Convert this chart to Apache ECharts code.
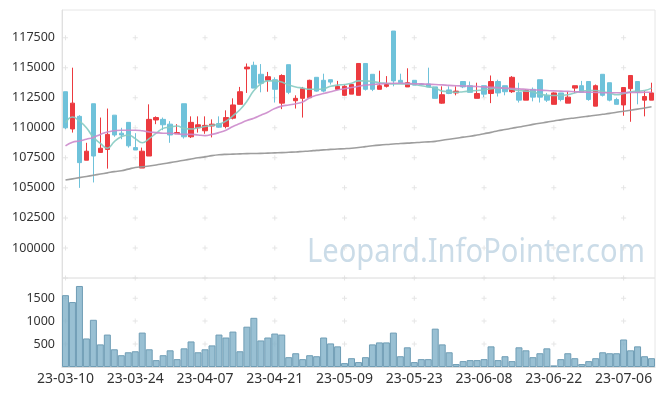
<!DOCTYPE html>
<html>
<head>
<meta charset="utf-8">
<script src="https://cdn.jsdelivr.net/npm/echarts@6/dist/echarts.min.js"></script>
<style>
html,body{margin:0;padding:0;background:#fff;}
#c{width:665px;height:396px;}
</style>
</head>
<body>
<div id="c"></div>
<script>
var dates = ['23-03-10','23-03-13','23-03-14','23-03-15','23-03-16','23-03-17','23-03-20','23-03-21','23-03-22','23-03-23',
'23-03-24','23-03-27','23-03-28','23-03-29','23-03-30','23-03-31','23-04-03','23-04-04','23-04-05','23-04-06',
'23-04-07','23-04-10','23-04-11','23-04-12','23-04-13','23-04-14','23-04-17','23-04-18','23-04-19','23-04-20',
'23-04-21','23-04-24','23-04-25','23-04-26','23-04-27','23-04-28','23-05-02','23-05-03','23-05-04','23-05-08',
'23-05-09','23-05-10','23-05-11','23-05-12','23-05-15','23-05-16','23-05-17','23-05-18','23-05-19','23-05-22',
'23-05-23','23-05-24','23-05-25','23-05-26','23-05-30','23-05-31','23-06-01','23-06-02','23-06-05','23-06-07',
'23-06-08','23-06-09','23-06-12','23-06-13','23-06-14','23-06-15','23-06-16','23-06-19','23-06-20','23-06-21',
'23-06-22','23-06-23','23-06-26','23-06-27','23-06-28','23-06-29','23-06-30','23-07-03','23-07-04','23-07-05',
'23-07-06','23-07-07','23-07-10','23-07-11','23-07-12'];

var openP = [113000,109900,110950,107300,112000,107950,108200,111050,109550,110450,
108350,106650,107650,110650,110700,110300,109500,112000,109250,110000,
109750,110150,110350,110100,110800,111950,114900,115200,114450,113950,
114000,112050,115250,112250,112450,112500,114200,113950,114000,113200,
112700,112800,112700,115350,114450,113200,113450,118050,113950,113400,
113950,113650,113650,113400,112050,113150,112900,113850,113500,112450,
113500,112850,113850,113500,113000,112950,112300,113200,114000,112700,
111950,112900,112050,113300,113500,113850,111800,114450,113750,112350,
111900,113250,113850,112300,112300];
var closeP = [110000,112050,107100,108050,107650,108300,109450,109400,109400,108500,
108150,108050,110700,110850,110250,109400,109600,109250,110450,110250,
110200,110300,110050,110850,111900,113000,115050,113300,113700,114250,
113200,114350,112950,112450,113250,113950,113050,113050,113800,113450,
113450,113600,115350,113200,113200,113500,113600,113900,113750,113750,
113550,113600,113400,112450,112750,112850,113050,113400,112950,112850,
112800,113850,112900,113000,114200,112300,113100,112550,112550,112300,
112900,112350,112550,113500,112950,112350,113500,112700,112300,111950,
113350,114350,112950,112600,112900];
var lowP = [109900,109600,105000,107300,105450,107900,106600,109250,109050,108350,
108150,106650,107650,110300,109800,108750,109500,109100,109150,109600,
109500,109200,110000,109950,110700,111950,112900,113300,112950,113000,
112100,111550,112800,111600,110850,112500,113000,112950,113600,113200,
112650,112800,112700,113100,113050,113200,113350,113450,113700,113400,
113550,113550,113400,112450,112000,112800,112700,113300,112950,112450,
112550,112050,112600,112700,112900,112100,112300,112200,112100,112150,
111950,112200,112050,112900,112950,112250,111800,112600,112200,111950,
111000,110500,111950,110950,112300];
var highP = [113000,115000,111050,108750,112000,110850,111600,111050,110000,110450,
109550,108350,111950,110950,110850,110550,110300,112000,110950,110950,
110950,110700,110950,111450,112450,113400,115350,115500,115300,114650,
114200,114450,115250,112700,113400,114000,114200,114500,114000,113900,
113550,113600,115350,115350,114450,114750,114300,118050,114500,114950,
113950,113700,115000,113400,113450,113450,113450,113850,113850,113750,
113500,114350,114000,113500,114300,113750,113200,113350,114000,112900,
112950,112900,113000,113500,113900,113850,113600,114450,113750,112500,
113350,114350,113850,113050,113750];

var ma5 = [110400,110900,110550,110000,109200,108700,108300,108850,109250,109400,
109100,108750,109100,109550,109950,110050,110150,109950,109900,110000,
110100,110200,110300,110550,111000,111500,112200,113100,113650,113900,
113900,113800,113550,113400,113300,113200,113200,113250,113450,113550,
113600,113700,113900,113900,113850,113750,113700,113650,113650,113650,
113600,113500,113400,113300,113050,113000,112950,113000,113050,113100,
113150,113250,113300,113300,113200,113100,113050,113000,112800,112700,
112680,112700,112750,112900,113050,113100,113100,113000,112900,112750,
112850,113000,113050,113100,113300];
var ma20 = [108500,108800,108900,109050,109200,109450,109650,109750,109800,109800,
109800,109750,109650,109600,109550,109550,109500,109450,109450,109400,
109350,109450,109600,109800,110100,110350,110600,110800,111050,111300,
111600,111800,111900,112000,112150,112500,112700,112850,113000,113150,
113250,113350,113450,113550,113600,113650,113680,113700,113700,113680,
113660,113650,113620,113600,113570,113530,113500,113480,113460,113430,
113400,113370,113340,113300,113270,113240,113200,113160,113130,113100,
113070,113050,113030,113000,112980,112960,112940,112920,112910,112910,
112920,112930,112940,112950,112950];
var ma60 = [105650,105750,105850,105950,106050,106150,106250,106350,106420,106560,
106700,106760,106820,106900,107000,107100,107200,107300,107400,107500,
107580,107680,107750,107790,107810,107830,107850,107860,107870,107890,
107910,107930,107960,107990,108030,108070,108120,108160,108200,108230,
108260,108300,108360,108430,108500,108560,108610,108650,108690,108720,
108760,108800,108830,108870,108960,109050,109130,109220,109300,109400,
109510,109620,109750,109850,109960,110060,110170,110280,110380,110470,
110570,110660,110750,110820,110900,110970,111040,111120,111200,111290,
111380,111460,111550,111650,111750];

var volume = [1566,1416,1766,622,1029,493,707,386,257,321,
343,750,386,150,257,364,171,407,557,321,
386,471,707,643,772,343,879,1072,579,643,
729,707,214,300,171,257,235,643,514,450,
85,192,107,214,493,536,536,750,235,429,
107,171,171,836,493,321,64,128,150,150,
171,450,150,235,128,429,364,214,300,407,
35,171,300,192,64,128,192,321,300,300,
600,364,450,235,192];

var priceTicks = [100000,102500,105000,107500,110000,112500,115000,117500];
var volumeTicks = [500,1000,1500,1940];
var markIdx = [0,10,20,30,40,50,60,70,80];

var candle = dates.map(function(d,i){ return [openP[i], closeP[i], lowP[i], highP[i]]; });
var crossMain = [], crossVol = [];
markIdx.forEach(function(i){
  priceTicks.forEach(function(v){ crossMain.push([dates[i], v]); });
  volumeTicks.forEach(function(v){ crossVol.push([dates[i], v]); });
});

var UP = '#ec3a3f', DOWN = '#6fc2da';
var crossSym = 'path://M2,0h1v5h-1zM0,2h5v1h-5z';
var labelFont = 'Noto Sans';
function plain(v){ return String(v); }

var chart = echarts.init(document.getElementById('c'), null, {renderer:'canvas'});
chart.setOption({
  animation: false,
  backgroundColor: '#fff',
  graphic: [{
    type: 'text', left: 307, top: 237, z: 0, silent: true, scaleX: 0.91,
    style: { text: 'Leopard.InfoPointer.com', font: '32px "Noto Sans"', fill: '#cbdce8' }
  }],
  grid: [
    { left: 62, right: 10, top: 10, height: 268, show: true, borderColor: '#e6e6e6', borderWidth: 1 },
    { left: 62, right: 10, top: 278, height: 89, show: true, borderColor: '#e6e6e6', borderWidth: 1 }
  ],
  xAxis: [
    { type: 'category', gridIndex: 0, data: dates, boundaryGap: true,
      axisLine: {show:false}, axisTick: {show:false}, axisLabel: {show:false}, splitLine: {show:false} },
    { type: 'category', gridIndex: 1, data: dates, boundaryGap: true,
      axisLine: {show:true, lineStyle:{color:'#dddddd'}}, axisTick: {show:false},
      axisLabel: { interval: 9, color: '#333', fontFamily: labelFont, fontSize: 14, margin: 5 },
      splitLine: {show:false} }
  ],
  yAxis: [
    { type: 'value', gridIndex: 0, min: 97500, max: 119800, interval: 2500, scale: true,
      axisLine: {show:true, lineStyle:{color:'#e0e0e0'}}, axisTick: {show:false}, splitLine: {show:false},
      axisLabel: { formatter: plain, showMinLabel: false, showMaxLabel: false, color: '#333', fontFamily: labelFont, fontSize: 12.5, margin: 7 } },
    { type: 'value', gridIndex: 1, min: 0, max: 1940, interval: 500,
      axisLine: {show:true, lineStyle:{color:'#e0e0e0'}}, axisTick: {show:false}, splitLine: {show:false},
      axisLabel: { formatter: plain, showMinLabel: false, showMaxLabel: false, color: '#333', fontFamily: labelFont, fontSize: 12.5, margin: 7 } }
  ],
  series: [
    { type: 'scatter', xAxisIndex: 0, yAxisIndex: 0, data: crossMain, symbol: crossSym, symbolSize: 5,
      itemStyle: {color:'#dedede'}, silent: true, z: 1 },
    { type: 'scatter', xAxisIndex: 1, yAxisIndex: 1, data: crossVol, symbol: crossSym, symbolSize: 5,
      itemStyle: {color:'#dedede'}, silent: true, z: 1 },
    { type: 'candlestick', xAxisIndex: 0, yAxisIndex: 0, data: candle, barWidth: 5, z: 3,
      itemStyle: { color: UP, color0: DOWN, borderColor: UP, borderColor0: DOWN, borderWidth: 1 } },
    { type: 'line', xAxisIndex: 0, yAxisIndex: 0, data: ma5, symbol: 'none', smooth: true, z: 4,
      lineStyle: { color: '#86cbc2', width: 1.6, opacity: 0.9 } },
    { type: 'line', xAxisIndex: 0, yAxisIndex: 0, data: ma20, symbol: 'none', smooth: true, z: 4,
      lineStyle: { color: '#cc8acb', width: 1.6, opacity: 0.9 } },
    { type: 'line', xAxisIndex: 0, yAxisIndex: 0, data: ma60, symbol: 'none', smooth: true, z: 4,
      lineStyle: { color: '#999999', width: 1.6, opacity: 0.95 } },
    { type: 'bar', xAxisIndex: 1, yAxisIndex: 1, data: volume, barCategoryGap: '0%', z: 3,
      itemStyle: { color: 'rgba(128,176,200,0.8)', borderColor: '#6f9db5', borderWidth: 1 } }
  ]
});
</script>
</body>
</html>
